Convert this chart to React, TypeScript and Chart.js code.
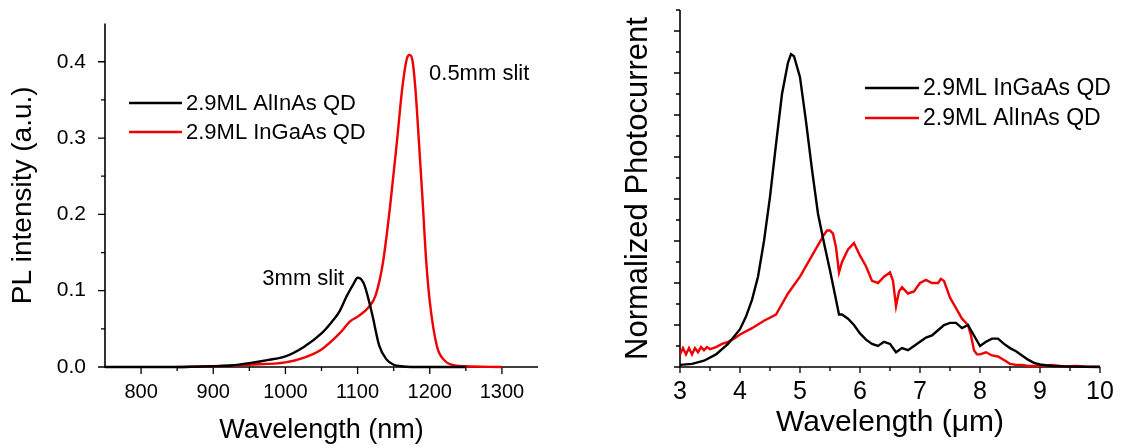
import React, { useEffect, useRef } from 'react';
import { Chart, registerables } from 'chart.js';

Chart.register(...registerables);

const FONT = '"Liberation Sans", Arial, Helvetica, sans-serif';
const BLACK = '#000000';
const RED = '#f00000';

// ---------- Left panel: PL spectra ----------
const leftXTicks = [800, 900, 1000, 1100, 1200, 1300];
const leftXMinor = [850, 950, 1050, 1150, 1250];
const leftYTicks = [0, 0.1, 0.2, 0.3, 0.4];
const leftYTickLabels = ['0.0', '0.1', '0.2', '0.3', '0.4'];
const leftYMinor = [0.05, 0.15, 0.25, 0.35];

const plAlInAsX = [750, 800, 850, 900, 925, 950, 975, 1000, 1025, 1050, 1065, 1075, 1085, 1095, 1100, 1105, 1110, 1120, 1130, 1140, 1150, 1160, 1175, 1200, 1250];
const plAlInAsY = [0, 0, 0, 0.001, 0.002, 0.005, 0.009, 0.014, 0.026, 0.044, 0.06, 0.073, 0.093, 0.11, 0.117, 0.115, 0.106, 0.07, 0.028, 0.01, 0.003, 0.001, 0, 0, 0];

const plInGaAsX = [850, 900, 950, 1000, 1025, 1050, 1075, 1090, 1100, 1115, 1125, 1135, 1145, 1155, 1162, 1168, 1172, 1176, 1180, 1185, 1190, 1195, 1200, 1210, 1220, 1230, 1250, 1300];
const plInGaAsY = [0, 0.001, 0.003, 0.006, 0.012, 0.023, 0.044, 0.06, 0.066, 0.078, 0.094, 0.136, 0.21, 0.3, 0.366, 0.403, 0.409, 0.402, 0.366, 0.295, 0.22, 0.14, 0.086, 0.027, 0.009, 0.003, 0.001, 0];

const leftNotes = [
  { text: '0.5mm slit', x: 1199, y: 0.384 },
  { text: '3mm slit', x: 968, y: 0.116 },
];

// ---------- Right panel: photocurrent ----------
const rightXTicks = [3, 4, 5, 6, 7, 8, 9, 10];
const rightXMinor = [3.5, 4.5, 5.5, 6.5, 7.5, 8.5, 9.5];
const rightYMajor = [0, 2, 4, 6, 8, 10, 12, 14, 16];
const rightYMinor = [1, 3, 5, 7, 9, 11, 13, 15, 17];

const pcInGaAsX = [3.0, 3.2, 3.4, 3.6, 3.8, 4.0, 4.1, 4.2, 4.3, 4.4, 4.5, 4.6, 4.7, 4.8, 4.85, 4.9, 5.0, 5.1, 5.2, 5.3, 5.4, 5.5, 5.6, 5.65, 5.7, 5.8, 5.9, 6.0, 6.1, 6.2, 6.3, 6.4, 6.5, 6.6, 6.7, 6.8, 6.9, 7.0, 7.1, 7.2, 7.3, 7.4, 7.5, 7.6, 7.7, 7.8, 7.9, 8.0, 8.1, 8.2, 8.3, 8.4, 8.5, 8.6, 8.7, 8.8, 8.9, 9.0, 9.2, 9.5, 10.0];
const pcInGaAsY = [0.1, 0.15, 0.3, 0.6, 1.1, 1.8, 2.4, 3.2, 4.3, 6.0, 8.1, 10.6, 13.0, 14.5, 14.9, 14.8, 13.8, 11.7, 9.4, 7.3, 5.9, 4.6, 3.2, 2.5, 2.5, 2.3, 2.0, 1.6, 1.3, 1.1, 1.0, 1.2, 1.1, 0.7, 0.9, 0.8, 1.0, 1.2, 1.4, 1.5, 1.75, 2.0, 2.1, 2.1, 1.85, 2.0, 1.5, 1.0, 1.2, 1.35, 1.35, 1.1, 0.9, 0.75, 0.55, 0.35, 0.2, 0.12, 0.05, 0.02, 0];

const pcAlInAsX = [3.0, 3.05, 3.1, 3.15, 3.2, 3.25, 3.3, 3.35, 3.4, 3.45, 3.5, 3.6, 3.7, 3.8, 3.9, 4.0, 4.2, 4.4, 4.6, 4.8, 5.0, 5.2, 5.3, 5.4, 5.45, 5.5, 5.55, 5.6, 5.65, 5.7, 5.8, 5.9, 6.0, 6.1, 6.2, 6.3, 6.4, 6.5, 6.55, 6.6, 6.65, 6.7, 6.8, 6.9, 7.0, 7.1, 7.2, 7.3, 7.35, 7.4, 7.5, 7.6, 7.7, 7.8, 7.85, 7.9, 7.95, 8.0, 8.1, 8.2, 8.3, 8.4, 8.5, 8.6, 8.7, 8.8, 9.0, 9.2, 9.4, 9.6, 9.8, 10.0];
const pcAlInAsY = [0.6, 0.9, 0.6, 0.9, 0.6, 0.9, 0.7, 0.95, 0.8, 0.95, 0.85, 0.95, 1.1, 1.2, 1.35, 1.55, 1.85, 2.2, 2.5, 3.5, 4.3, 5.3, 5.8, 6.3, 6.5, 6.5, 6.35, 5.7, 4.5, 5.0, 5.6, 5.9, 5.3, 4.8, 4.1, 4.0, 4.3, 4.5, 4.1, 2.9, 3.6, 3.8, 3.5, 3.6, 4.0, 4.15, 4.0, 4.0, 4.2, 4.1, 3.3, 2.8, 2.3, 2.0, 1.5, 0.8, 0.6, 0.6, 0.7, 0.55, 0.5, 0.33, 0.15, 0.1, 0.1, 0.05, 0.05, 0.1, 0.03, 0.05, 0.02, 0.02];

const toPoints = (xs: number[], ys: number[]) => xs.map((x, i) => ({ x, y: ys[i] }));

type DecoCfg = {
  xMajor: number[]; xMinor: number[]; yMajor: number[]; yMinor: number[];
  majorLen: number; minorLen: number;
  legend: { x: number; y: number; dy: number; len: number; size: number };
  notes: { text: string; x: number; y: number }[];
  noteSize: number;
};

function decoPlugin(cfg: DecoCfg) {
  return {
    id: 'deco',
    beforeDatasetsDraw(chart: any) {
      const ctx = chart.ctx;
      const xs = chart.scales.x;
      const ys = chart.scales.y;
      const { left, right, top, bottom } = chart.chartArea;
      ctx.save();
      ctx.strokeStyle = BLACK;
      ctx.lineWidth = 1.6;
      ctx.beginPath();
      ctx.moveTo(left, top);
      ctx.lineTo(left, bottom);
      ctx.moveTo(left - 1, bottom);
      ctx.lineTo(right, bottom);
      ctx.stroke();
      ctx.lineWidth = 1.3;
      ctx.beginPath();
      const xt = (v: number, len: number) => {
        const p = xs.getPixelForValue(v);
        ctx.moveTo(p, bottom);
        ctx.lineTo(p, bottom + len);
      };
      const yt = (v: number, len: number) => {
        const p = ys.getPixelForValue(v);
        ctx.moveTo(left, p);
        ctx.lineTo(left - len, p);
      };
      cfg.xMajor.forEach((v) => xt(v, cfg.majorLen));
      cfg.xMinor.forEach((v) => xt(v, cfg.minorLen));
      cfg.yMajor.forEach((v) => yt(v, cfg.majorLen));
      cfg.yMinor.forEach((v) => yt(v, cfg.minorLen));
      ctx.stroke();
      ctx.restore();
    },
    afterDraw(chart: any) {
      const ctx = chart.ctx;
      const xs = chart.scales.x;
      const ys = chart.scales.y;
      ctx.save();
      const lg = cfg.legend;
      ctx.font = `${lg.size}px ${FONT}`;
      ctx.textBaseline = 'middle';
      ctx.textAlign = 'left';
      chart.data.datasets.forEach((ds: any, i: number) => {
        const y = lg.y + i * lg.dy;
        ctx.strokeStyle = ds.borderColor;
        ctx.lineWidth = 2.6;
        ctx.beginPath();
        ctx.moveTo(lg.x, y);
        ctx.lineTo(lg.x + lg.len, y);
        ctx.stroke();
        ctx.fillStyle = BLACK;
        ctx.fillText(ds.label, lg.x + lg.len + 4, y + 1);
      });
      ctx.font = `${cfg.noteSize}px ${FONT}`;
      cfg.notes.forEach((n) => {
        ctx.fillText(n.text, xs.getPixelForValue(n.x), ys.getPixelForValue(n.y));
      });
      ctx.restore();
    },
  };
}

function leftConfig(): any {
  return {
    type: 'line',
    data: {
      datasets: [
        { label: '2.9ML AlInAs QD', data: toPoints(plAlInAsX, plAlInAsY), borderColor: BLACK, borderWidth: 2.4, pointRadius: 0, cubicInterpolationMode: 'monotone', fill: false, clip: false },
        { label: '2.9ML InGaAs QD', data: toPoints(plInGaAsX, plInGaAsY), borderColor: RED, borderWidth: 2.4, pointRadius: 0, cubicInterpolationMode: 'monotone', fill: false, clip: false },
      ],
    },
    options: {
      animation: false,
      responsive: false,
      maintainAspectRatio: false,
      layout: { padding: { left: 0, top: 10, right: 22, bottom: 0 } },
      plugins: { legend: { display: false }, tooltip: { enabled: false } },
      scales: {
        x: {
          type: 'linear', min: 750, max: 1350,
          afterBuildTicks: (s: any) => { s.ticks = leftXTicks.map((v) => ({ value: v })); },
          afterFit: (s: any) => { s.height = 81; },
          grid: { display: false }, border: { display: false },
          ticks: { padding: 5, color: BLACK, autoSkip: false, maxRotation: 0, font: { family: FONT, size: 20 }, callback: (v: any, i: number) => String(leftXTicks[i]) },
          title: { display: true, text: 'Wavelength (nm)', color: BLACK, font: { family: FONT, size: 27 }, padding: { top: 0, bottom: 1 } },
        },
        y: {
          type: 'linear', min: 0, max: 0.45,
          afterBuildTicks: (s: any) => { s.ticks = leftYTicks.map((v) => ({ value: v })); },
          afterFit: (s: any) => { s.width = 105; },
          grid: { display: false }, border: { display: false },
          ticks: { padding: 11, color: BLACK, autoSkip: false, font: { family: FONT, size: 21 }, callback: (v: any, i: number) => leftYTickLabels[i] },
          title: { display: true, text: 'PL intensity (a.u.)', color: BLACK, font: { family: FONT, size: 28 }, padding: { top: 6, bottom: 0 } },
        },
      },
    },
    plugins: [decoPlugin({
      xMajor: leftXTicks, xMinor: leftXMinor, yMajor: leftYTicks, yMinor: leftYMinor,
      majorLen: 7, minorLen: 4,
      legend: { x: 129, y: 103, dy: 29, len: 53, size: 22 },
      notes: leftNotes, noteSize: 22,
    })],
  };
}

function rightConfig(): any {
  return {
    type: 'line',
    data: {
      datasets: [
        { label: '2.9ML InGaAs QD', data: toPoints(pcInGaAsX, pcInGaAsY), borderColor: BLACK, borderWidth: 2.4, pointRadius: 0, tension: 0, fill: false, clip: false },
        { label: '2.9ML AlInAs QD', data: toPoints(pcAlInAsX, pcAlInAsY), borderColor: RED, borderWidth: 2.4, pointRadius: 0, tension: 0, fill: false, clip: false },
      ],
    },
    options: {
      animation: false,
      responsive: false,
      maintainAspectRatio: false,
      layout: { padding: { left: 0, top: 10, right: 23, bottom: 0 } },
      plugins: { legend: { display: false }, tooltip: { enabled: false } },
      scales: {
        x: {
          type: 'linear', min: 3, max: 10,
          afterBuildTicks: (s: any) => { s.ticks = rightXTicks.map((v) => ({ value: v })); },
          afterFit: (s: any) => { s.height = 81; },
          grid: { display: false }, border: { display: false },
          ticks: { padding: 2, color: BLACK, autoSkip: false, maxRotation: 0, font: { family: FONT, size: 25 }, callback: (v: any, i: number) => String(rightXTicks[i]) },
          title: { display: true, text: 'Wavelength (\u03bcm)', color: BLACK, font: { family: FONT, size: 30 }, padding: { top: 0, bottom: 7 } },
        },
        y: {
          type: 'linear', min: 0, max: 17,
          afterFit: (s: any) => { s.width = 120; },
          grid: { display: false }, border: { display: false },
          ticks: { display: false },
          title: { display: true, text: 'Normalized Photocurrent', color: BLACK, font: { family: FONT, size: 31 }, padding: { top: 60, bottom: 0 } },
        },
      },
    },
    plugins: [decoPlugin({
      xMajor: rightXTicks, xMinor: rightXMinor, yMajor: rightYMajor, yMinor: rightYMinor,
      majorLen: 6, minorLen: 4,
      legend: { x: 305, y: 88, dy: 30, len: 54, size: 23 },
      notes: [], noteSize: 22,
    })],
  };
}

export default function App() {
  const leftRef = useRef<HTMLCanvasElement>(null);
  const rightRef = useRef<HTMLCanvasElement>(null);
  useEffect(() => {
    const c1 = new Chart(leftRef.current as HTMLCanvasElement, leftConfig());
    const c2 = new Chart(rightRef.current as HTMLCanvasElement, rightConfig());
    return () => { c1.destroy(); c2.destroy(); };
  }, []);
  return (
    <div style={{ position: 'absolute', left: 0, top: 0, width: 1123, height: 448, background: '#ffffff', overflow: 'hidden' }}>
      <canvas ref={leftRef} width={560} height={448} style={{ position: 'absolute', left: 0, top: 0, width: 560, height: 448 }} />
      <canvas ref={rightRef} width={563} height={448} style={{ position: 'absolute', left: 560, top: 0, width: 563, height: 448 }} />
    </div>
  );
}
